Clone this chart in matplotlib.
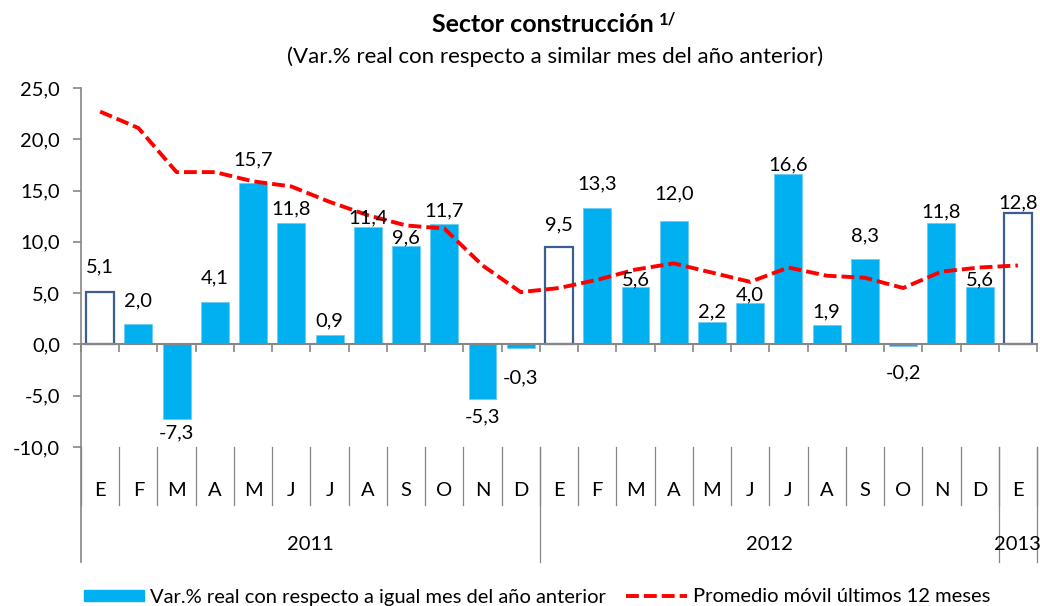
import numpy as np
import matplotlib
matplotlib.use('Agg')
import matplotlib.pyplot as plt
from matplotlib.patches import Patch
from matplotlib.lines import Line2D

plt.rcParams['font.family'] = ['Lato', 'DejaVu Sans']

# datos
months = ['E', 'F', 'M', 'A', 'M', 'J', 'J', 'A', 'S', 'O', 'N', 'D'] * 2 + ['E']
years = ['2011', '2012', '2013']
year_len = [12, 12, 1]
var_real = [5.1, 2.0, -7.3, 4.1, 15.7, 11.8, 0.9, 11.4, 9.6, 11.7, -5.3, -0.3,
            9.5, 13.3, 5.6, 12.0, 2.2, 4.0, 16.6, 1.9, 8.3, -0.2, 11.8, 5.6, 12.8]
hollow = [0, 12, 24]  # enero sin relleno
prom_movil = [22.7, 21.1, 16.8, 16.8, 15.9, 15.4, 13.9, 12.6, 11.6, 11.3, 7.7, 5.1,
              5.5, 6.3, 7.3, 7.9, 7.0, 6.1, 7.5, 6.7, 6.5, 5.5, 7.1, 7.5, 7.7]
# desplazamiento de etiquetas (px) tal como en el original
lab_off = [25, 23, 14, 24, 24, 15, 14, 10, 8, 14, 18, 30,
           22, 24, 7, 27, 10, 9, 9, 13, 23, 26, 12, 7, 10]

BLUE = '#00B0F0'
GRAY = '#868686'
FS = 14.5
DASH = (0, (3.3, 1.3))

W, H = 1040, 606
fig = plt.figure(figsize=(W / 100, H / 100), dpi=100)
ax = fig.add_axes([81 / W, 1 - 447 / H, (1037 - 81) / W, (447 - 88) / H])

x = np.arange(len(var_real))
fc = ['white' if i in hollow else BLUE for i in x]
ec = ['#3A5F8F' if i in hollow else '#6FCDF2' for i in x]
lw = [1.6 if i in hollow else 0.6 for i in x]
ax.bar(x, var_real, width=0.73, color=fc, edgecolor=ec, linewidth=lw, zorder=2)

ax.plot(x, prom_movil, color='#FF0000', lw=2.8, linestyle=DASH,
        dash_capstyle='butt', zorder=3)

for i, v in enumerate(var_real):
    off = lab_off[i] if v >= 0 else -lab_off[i]
    ax.annotate(f'{v:.1f}'.replace('.', ','), (i, v), xytext=(0, off),
                textcoords='offset pixels', ha='center', va='center',
                fontsize=FS, color='black', zorder=4)

ax.set_xlim(-0.5, len(var_real) - 0.5)
ax.set_ylim(-10, 25)
ax.set_yticks(range(-10, 26, 5))
ax.set_yticklabels([f'{v:.1f}'.replace('.', ',') for v in range(-10, 26, 5)],
                   fontsize=FS)
ax.tick_params(axis='y', direction='out', length=6, width=1.2, color=GRAY, pad=9)

for s in ['top', 'right']:
    ax.spines[s].set_visible(False)
ax.spines['left'].set_color(GRAY)
ax.spines['left'].set_linewidth(1.2)
ax.spines['bottom'].set_position(('data', 0))
ax.spines['bottom'].set_color(GRAY)
ax.spines['bottom'].set_linewidth(1.5)
ax.set_xticks(np.arange(-0.5, len(var_real), 1))
ax.set_xticklabels([])
ax.tick_params(axis='x', direction='out', length=6, width=1.2, color=GRAY)

# eje de categorías de dos niveles
tr = ax.get_xaxis_transform()
m_bot = -58 / 359
y_bot = -115 / 359
for i, m in enumerate(months):
    ax.text(i, -43 / 359, m, transform=tr, ha='center', va='center', fontsize=FS)
for b in range(len(months) + 1):
    ax.plot([b - 0.5, b - 0.5], [0, m_bot], transform=tr, color=GRAY, lw=0.9,
            clip_on=False)
start = 0
ax.plot([-0.5, -0.5], [0, y_bot], transform=tr, color=GRAY, lw=1.2, clip_on=False)
for yr, n in zip(years, year_len):
    ax.text(start + (n - 1) / 2, -98 / 359, yr, transform=tr, ha='center',
            va='center', fontsize=FS)
    start += n
    ax.plot([start - 0.5, start - 0.5], [0, y_bot], transform=tr, color=GRAY,
            lw=0.9, clip_on=False)

# títulos
t = fig.text(543 / W, 1 - 24 / H, 'Sector construcción', ha='center', va='center',
             fontsize=18, fontweight='bold')
fig.canvas.draw()
bb = t.get_window_extent()
fig.text((bb.x1 + 5) / W, (bb.y1 + 1) / H, '1/', ha='left', va='top',
         fontsize=12, fontweight='bold')
fig.text(555 / W, 1 - 57 / H,
         '(Var.% real con respecto a similar mes del año anterior)',
         ha='center', va='center', fontsize=16)

handles = [Patch(facecolor=BLUE, edgecolor=BLUE),
           Line2D([], [], color='#FF0000', lw=2.8, linestyle=DASH,
                  dash_capstyle='butt')]
fig.legend(handles, ['Var.% real con respecto a igual mes del año anterior',
                     'Promedio móvil últimos 12 meses'],
           loc='center', bbox_to_anchor=(537 / W, 1 - 597 / H), ncol=2,
           frameon=False, fontsize=FS, handlelength=3.0, handleheight=0.5,
           handletextpad=0.3, columnspacing=1.0, borderpad=0)

fig.savefig('out.png', dpi=100)
